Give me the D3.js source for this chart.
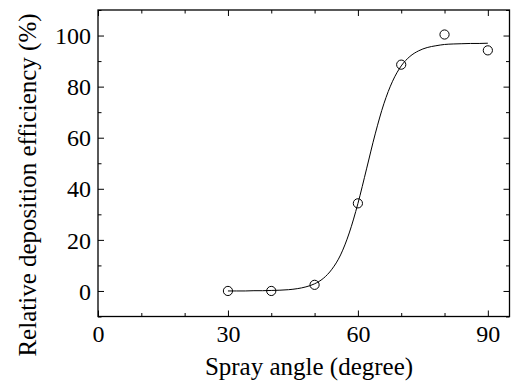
<!DOCTYPE html>
<html lang="en">
<head>
  <meta charset="UTF-8">
  <title>Relative deposition efficiency vs spray angle</title>
  <script src="https://d3js.org/d3.v7.min.js"></script>
  <style>
    body, html {
      margin: 0;
      padding: 0;
      background-color: #fff;
      overflow: hidden;
    }
    svg text {
      fill: #000;
    }
  </style>
</head>
<body>
  <svg id="chart"></svg>
  <script>
    // measured points
    const angles = [30, 40, 50, 60, 70, 80, 90];
    const efficiency = [0, 0, 2.4, 34.3, 88.6, 100.4, 94.2];

    // fitted curve, every 2 degrees
    const fitAngles = [30, 32, 34, 36, 38, 40, 42, 44, 46, 48, 50, 52, 54, 56, 58, 60,
                       62, 64, 66, 68, 70, 72, 74, 76, 78, 80, 82, 84, 86, 88, 90];
    const fitValues = [0, 0, 0, 0.1, 0.1, 0.2, 0.3, 0.5, 0.9, 1.6, 2.8, 4.9, 8.5, 14.1, 22.7, 34.2,
                       47.8, 61.5, 73.3, 82.1, 88.1, 91.8, 94.0, 95.3, 96.0, 96.5, 96.7, 96.8, 96.9, 96.9, 97.0];

    const xMajor = [0, 30, 60, 90];
    const xMinor = [10, 20, 40, 50, 70, 80];
    const yMajor = [0, 20, 40, 60, 80, 100];
    const yMinor = [-10, 10, 30, 50, 70, 90, 110];

    const width = 511;
    const height = 381;
    const margin = {top: 10, right: 1.5, bottom: 64.5, left: 98};
    const serif = "Liberation Serif";

    const svg = d3.select("#chart")
      .attr("width", width)
      .attr("height", height);

    const x = d3.scaleLinear()
      .domain([0, 95])
      .range([margin.left, width - margin.right]);

    const y = d3.scaleLinear()
      .domain([-10, 110])
      .range([height - margin.bottom, margin.top]);

    const x0 = margin.left, x1 = width - margin.right;
    const y0 = height - margin.bottom, y1 = margin.top;

    // inward ticks on all four sides
    function ticks(g, axis, size, values, labels) {
      g.call(axis.tickValues(values).tickSize(-size).tickSizeOuter(0)
        .tickFormat(labels ? d3.format("d") : ""));
      g.attr("font-family", serif).attr("font-size", 24);
      g.select(".domain").remove();
      g.selectAll(".tick line").attr("stroke", "#000").attr("stroke-width", 1);
    }

    svg.append("g").attr("transform", `translate(0,${y0})`)
      .call(g => ticks(g, d3.axisBottom(x), 6, xMajor, true))
      .selectAll(".tick text").attr("y", 8).attr("dy", "0.71em");
    svg.append("g").attr("transform", `translate(0,${y0})`)
      .call(g => ticks(g, d3.axisBottom(x), 3.5, xMinor, false));
    svg.append("g").attr("transform", `translate(0,${y1})`)
      .call(g => ticks(g, d3.axisTop(x), 6, xMajor, false));
    svg.append("g").attr("transform", `translate(0,${y1})`)
      .call(g => ticks(g, d3.axisTop(x), 3.5, xMinor, false));

    svg.append("g").attr("transform", `translate(${x0},0)`)
      .call(g => ticks(g, d3.axisLeft(y), 6, yMajor, true))
      .selectAll(".tick text").attr("x", -7).attr("dy", "0.34em");
    svg.append("g").attr("transform", `translate(${x0},0)`)
      .call(g => ticks(g, d3.axisLeft(y), 3.5, yMinor, false));
    svg.append("g").attr("transform", `translate(${x1},0)`)
      .call(g => ticks(g, d3.axisRight(y), 6, yMajor, false));
    svg.append("g").attr("transform", `translate(${x1},0)`)
      .call(g => ticks(g, d3.axisRight(y), 3.5, yMinor, false));

    // frame
    svg.append("rect")
      .attr("x", x0)
      .attr("y", y1)
      .attr("width", x1 - x0)
      .attr("height", y0 - y1)
      .attr("fill", "none")
      .attr("stroke", "#000")
      .attr("stroke-width", 1.3);

    // fitted curve
    const fit = fitAngles.map((a, i) => [a, fitValues[i]]);
    svg.append("path")
      .datum(fit)
      .attr("fill", "none")
      .attr("stroke", "#000")
      .attr("stroke-width", 1)
      .attr("d", d3.line()
        .x(d => x(d[0]))
        .y(d => y(d[1]))
        .curve(d3.curveMonotoneX));

    // data markers
    svg.append("g")
      .selectAll("circle")
      .data(angles.map((a, i) => [a, efficiency[i]]))
      .enter()
      .append("circle")
      .attr("cx", d => x(d[0]))
      .attr("cy", d => y(d[1]))
      .attr("r", 4.6)
      .attr("fill", "none")
      .attr("stroke", "#000")
      .attr("stroke-width", 1);

    // axis titles
    svg.append("text")
      .attr("x", 309)
      .attr("y", 375)
      .attr("text-anchor", "middle")
      .attr("font-family", serif)
      .attr("font-size", 25)
      .text("Spray angle (degree)");

    svg.append("text")
      .attr("transform", "translate(35.5,185) rotate(-90)")
      .attr("text-anchor", "middle")
      .attr("font-family", serif)
      .attr("font-size", 25)
      .text("Relative deposition efficiency (%)");
  </script>
</body>
</html>
